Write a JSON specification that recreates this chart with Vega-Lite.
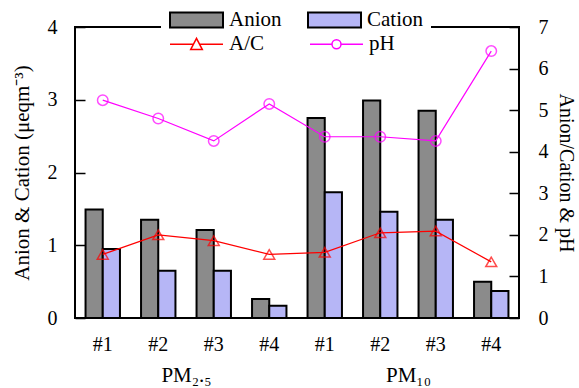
{
  "$schema": "https://vega.github.io/schema/vega-lite/v6.json",
  "width": 444,
  "height": 291,
  "autosize": {"type": "none"},
  "padding": {"left": 75, "top": 27, "right": 60, "bottom": 70},
  "background": "white",
  "config": {
    "view": {"stroke": "black", "strokeWidth": 2},
    "font": "Liberation Serif",
    "axis": {
      "labelFont": "Liberation Serif",
      "titleFont": "Liberation Serif",
      "labelFontSize": 20,
      "titleFontSize": 21,
      "titleFontWeight": "normal",
      "labelColor": "black",
      "titleColor": "black",
      "grid": false,
      "domain": false,
      "tickColor": "black",
      "tickWidth": 1.5
    },
    "legend": {
      "labelFont": "Liberation Serif",
      "labelFontSize": 21,
      "labelColor": "black"
    }
  },
  "datasets": {
    "bars": [
      {"cat": "PM2.5 #1", "ion": "Anion", "value": 1.49},
      {"cat": "PM2.5 #1", "ion": "Cation", "value": 0.95},
      {"cat": "PM2.5 #2", "ion": "Anion", "value": 1.35},
      {"cat": "PM2.5 #2", "ion": "Cation", "value": 0.65},
      {"cat": "PM2.5 #3", "ion": "Anion", "value": 1.21},
      {"cat": "PM2.5 #3", "ion": "Cation", "value": 0.65},
      {"cat": "PM2.5 #4", "ion": "Anion", "value": 0.26},
      {"cat": "PM2.5 #4", "ion": "Cation", "value": 0.17},
      {"cat": "PM10 #1", "ion": "Anion", "value": 2.75},
      {"cat": "PM10 #1", "ion": "Cation", "value": 1.73},
      {"cat": "PM10 #2", "ion": "Anion", "value": 2.99},
      {"cat": "PM10 #2", "ion": "Cation", "value": 1.46},
      {"cat": "PM10 #3", "ion": "Anion", "value": 2.85},
      {"cat": "PM10 #3", "ion": "Cation", "value": 1.35},
      {"cat": "PM10 #4", "ion": "Anion", "value": 0.5},
      {"cat": "PM10 #4", "ion": "Cation", "value": 0.37}
    ],
    "lines": [
      {"cat": "PM2.5 #1", "series": "A/C", "value": 1.53},
      {"cat": "PM2.5 #2", "series": "A/C", "value": 2.0},
      {"cat": "PM2.5 #3", "series": "A/C", "value": 1.86},
      {"cat": "PM2.5 #4", "series": "A/C", "value": 1.53},
      {"cat": "PM10 #1", "series": "A/C", "value": 1.58},
      {"cat": "PM10 #2", "series": "A/C", "value": 2.05},
      {"cat": "PM10 #3", "series": "A/C", "value": 2.09},
      {"cat": "PM10 #4", "series": "A/C", "value": 1.35},
      {"cat": "PM2.5 #1", "series": "pH", "value": 5.24},
      {"cat": "PM2.5 #2", "series": "pH", "value": 4.8},
      {"cat": "PM2.5 #3", "series": "pH", "value": 4.26},
      {"cat": "PM2.5 #4", "series": "pH", "value": 5.15},
      {"cat": "PM10 #1", "series": "pH", "value": 4.36},
      {"cat": "PM10 #2", "series": "pH", "value": 4.36},
      {"cat": "PM10 #3", "series": "pH", "value": 4.26},
      {"cat": "PM10 #4", "series": "pH", "value": 6.42}
    ],
    "groups": [
      {"grp": "PM₂.₅"},
      {"grp": "PM₁₀"}
    ]
  },
  "layer": [
    {
      "layer": [
        {
          "data": {"name": "bars"},
          "mark": {"type": "bar", "stroke": "black", "strokeWidth": 2},
          "encoding": {
            "x": {
              "field": "cat", "type": "nominal", "sort": null,
              "scale": {"paddingInner": 0.38, "paddingOuter": 0.19},
              "axis": {"title": null, "labelExpr": "split(datum.label, ' ')[1]", "labelAngle": 0, "ticks": false, "labelPadding": 16}
            },
            "xOffset": {"field": "ion", "type": "nominal", "scale": {"paddingInner": 0, "paddingOuter": 0}},
            "y": {
              "field": "value", "type": "quantitative",
              "scale": {"domain": [0, 4]},
              "axis": {"title": "Anion & Cation (μeqm⁻³)", "values": [0, 1, 2, 3, 4], "tickSize": -10, "labelPadding": 28, "titlePadding": 15}
            },
            "fill": {
              "field": "ion", "type": "nominal",
              "scale": {"domain": ["Anion", "Cation"], "range": ["#8b8b8b", "#b6b6f6"]},
              "legend": {
                "orient": "none", "legendX": 86, "legendY": -42.5,
                "direction": "horizontal", "columns": 2, "title": null,
                "symbolType": "M-1,-0.283H1V0.283H-1Z", "symbolSize": 2809,
                "symbolStrokeColor": "black", "symbolStrokeWidth": 2,
                "labelOffset": 5, "columnPadding": 22,
                "fillColor": "white", "padding": 8
              }
            }
          }
        },
        {
          "data": {"name": "lines"},
          "encoding": {
            "x": {"field": "cat", "type": "nominal", "sort": null},
            "y": {
              "field": "value", "type": "quantitative",
              "scale": {"domain": [0, 7]},
              "axis": {"orient": "right", "title": "Anion/Cation & pH", "titleFontSize": 20, "values": [0, 1, 2, 3, 4, 5, 6, 7], "tickSize": -10, "labelPadding": 29, "titlePadding": 7}
            },
            "stroke": {
              "field": "series", "type": "nominal",
              "scale": {"domain": ["A/C", "pH"], "range": ["#ff0000", "#ff00ff"]},
              "legend": {
                "orient": "none", "legendX": 86, "legendY": -18.5,
                "direction": "horizontal", "columns": 2, "title": null,
                "symbolSize": 2809, "symbolStrokeWidth": 1.5,
                "labelOffset": 5, "columnPadding": 42, "padding": 8,
                "encode": {
                  "symbols": {
                    "update": {
                      "shape": {"signal": "datum.value === 'A/C' ? 'M-1,0H-0.115M0.115,0H1M0,-0.22L0.22,0.2L-0.22,0.2Z' : 'M-1,0H-0.17M0.17,0H1M0.17,0A0.17,0.17,0,1,1,-0.17,0A0.17,0.17,0,1,1,0.17,0Z'"},
                      "fill": {"value": "transparent"}
                    }
                  }
                }
              }
            }
          },
          "layer": [
            {"mark": {"type": "line", "strokeWidth": 1.2}, "encoding": {"detail": {"field": "series"}}},
            {
              "transform": [{"filter": "datum.series === 'A/C'"}],
              "mark": {"type": "point", "shape": "triangle-up", "filled": false, "strokeWidth": 1.5, "size": 120}
            },
            {
              "transform": [{"filter": "datum.series === 'pH'"}],
              "mark": {"type": "point", "shape": "circle", "filled": false, "strokeWidth": 1.5, "size": 110}
            }
          ]
        }
      ],
      "resolve": {"scale": {"y": "independent"}}
    },
    {
      "data": {"name": "groups"},
      "mark": {"type": "text", "text": " "},
      "encoding": {
        "x": {
          "field": "grp", "type": "nominal", "sort": null,
          "scale": {"paddingInner": 0, "paddingOuter": 0},
          "axis": {"orient": "bottom", "offset": 40, "title": null, "labelAngle": 0, "ticks": false, "domain": false, "labelPadding": 6, "labelFontSize": 21}
        }
      }
    }
  ],
  "resolve": {"scale": {"x": "independent"}, "axis": {"x": "independent"}}
}
